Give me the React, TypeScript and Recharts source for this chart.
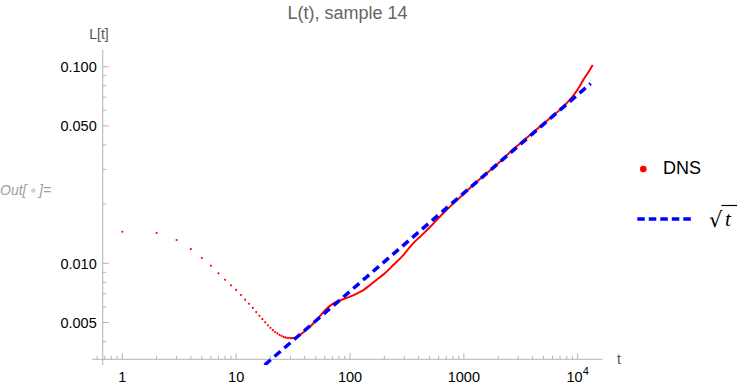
import React from 'react';
import { ComposedChart, Line, Scatter, XAxis, YAxis, ReferenceLine } from 'recharts';

// early samples, drawn as separate dots
const dotT = [1, 2, 3, 4, 5, 6, 7, 8, 9, 10, 11, 12, 13, 14, 15, 16, 17, 18, 19, 20, 21, 22, 23, 24, 25, 26, 27, 28, 29, 30];
const dotL = [
  0.01447, 0.01426, 0.01314, 0.01182, 0.01064, 0.00972, 0.00889, 0.00825, 0.00773, 0.00732,
  0.0069, 0.00653, 0.00623, 0.00593, 0.00565, 0.00541, 0.0052, 0.00501, 0.00484, 0.0047,
  0.00457, 0.00447, 0.0044, 0.00433, 0.00428, 0.00423, 0.0042, 0.00418, 0.00417, 0.00416,
];

// later samples are dense enough to read as a solid curve
const curveT = [
  30, 33, 37, 42, 48, 55, 62, 70, 80, 90, 100, 115, 130, 150, 175, 200, 240, 294, 350, 412,
  500, 577, 700, 850, 1000, 1400, 2000, 2718, 4000, 5500, 7000, 8000, 9150, 10475, 11200, 12000, 12800, 13550,
];
const curveL = [
  0.00416, 0.00418, 0.00436, 0.00462, 0.00497, 0.00543, 0.00586, 0.0062, 0.00645, 0.00661, 0.00677, 0.00702,
  0.00729, 0.00776, 0.00832, 0.00885, 0.0098, 0.01101, 0.01245, 0.01365, 0.0152, 0.0166, 0.0186, 0.0207,
  0.0226, 0.027, 0.0322, 0.038, 0.046, 0.0537, 0.0605, 0.0652, 0.0712, 0.08, 0.0857, 0.091, 0.0965, 0.102,
];

// sqrt(t) guide line, ends
const fitT = [17.8, 13000];
const fitL = [0.00304, 0.0821];

const xMajor = [1, 10, 100, 1000, 10000];
const xMinor = [0.6, 0.7, 0.8, 0.9, 2, 3, 4, 5, 6, 7, 8, 9, 20, 30, 40, 50, 60, 70, 80, 90, 200, 300, 400, 500, 600, 700, 800, 900, 2000, 3000, 4000, 5000, 6000, 7000, 8000, 9000];
const yMajor = [0.005, 0.01, 0.05, 0.1];
const yMinor = [0.004, 0.006, 0.007, 0.008, 0.009, 0.02, 0.03, 0.04, 0.06, 0.07, 0.08, 0.09];

const dots = dotT.map((t, i) => ({ t, L: dotL[i] }));
const curve = curveT.map((t, i) => ({ t, L: curveL[i] }));
const fit = fitT.map((t, i) => ({ t, L: fitL[i] }));

const W = 747;
const H = 387;
const LEFT = 92.3;
const RIGHT = 602.3;
const TOP = 50;
const BOTTOM = 365;
const X_DOMAIN: [number, number] = [0.545, 16450];
const Y_DOMAIN: [number, number] = [0.00304, 0.1216];
// where the axes cross
const ORIGIN_T = 0.673;
const ORIGIN_L = 0.00325;

const AXIS = '#b3b3b3';
const FONT = '"Liberation Sans", Arial, sans-serif';

const lg = Math.log10;
const xPx = (v: number) => LEFT + ((lg(v) - lg(X_DOMAIN[0])) / (lg(X_DOMAIN[1]) - lg(X_DOMAIN[0]))) * (RIGHT - LEFT);
const yPx = (v: number) => TOP + ((lg(Y_DOMAIN[1]) - lg(v)) / (lg(Y_DOMAIN[1]) - lg(Y_DOMAIN[0]))) * (BOTTOM - TOP);

const XTick = (props: any) => {
  const { x, payload } = props;
  const v = payload.value;
  const major = xMajor.includes(v);
  const y0 = yPx(ORIGIN_L);
  return (
    <g>
      <line x1={x} x2={x} y1={y0} y2={y0 - (major ? 6 : 3.5)} stroke={AXIS} strokeWidth={1} />
      {major && (
        <text x={x} y={y0 + 22.4} textAnchor="middle" fontSize={14.5} fontFamily={FONT} fill="#000">
          {v === 10000 ? (
            <>
              10<tspan dy={-6.5} fontSize={11}>4</tspan>
            </>
          ) : (
            String(v)
          )}
        </text>
      )}
    </g>
  );
};

const YTick = (props: any) => {
  const { y, payload } = props;
  const v = payload.value;
  const major = yMajor.includes(v);
  const x0 = xPx(ORIGIN_T);
  return (
    <g>
      <line x1={x0} x2={x0 + (major ? 6 : 3.5)} y1={y} y2={y} stroke={AXIS} strokeWidth={1} />
      {major && (
        <text x={x0 - 6} y={y + 5.4} textAnchor="end" fontSize={14.5} fontFamily={FONT} fill="#000">
          {v.toFixed(3)}
        </text>
      )}
    </g>
  );
};

const Dot = (props: any) => <circle cx={props.cx} cy={props.cy} r={1.1} fill="#ff0000" />;

export default function App() {
  return (
    <div style={{ position: 'absolute', left: 0, top: 0, width: W, height: H, background: '#fff' }}>
      <ComposedChart width={W} height={H} margin={{ top: TOP, right: W - RIGHT, bottom: 0, left: 0 }}>
        <XAxis
          dataKey="t"
          type="number"
          scale="log"
          domain={X_DOMAIN}
          allowDataOverflow
          ticks={[...xMinor, ...xMajor]}
          interval={0}
          height={H - BOTTOM}
          tickSize={0}
          tickMargin={0}
          axisLine={false}
          tickLine={false}
          tick={<XTick />}
        />
        <YAxis
          dataKey="L"
          type="number"
          scale="log"
          domain={Y_DOMAIN}
          allowDataOverflow
          ticks={[...yMinor, ...yMajor]}
          interval={0}
          width={LEFT}
          tickSize={0}
          tickMargin={0}
          axisLine={false}
          tickLine={false}
          tick={<YTick />}
        />
        <ReferenceLine y={ORIGIN_L} stroke={AXIS} strokeWidth={1} />
        <ReferenceLine x={ORIGIN_T} stroke={AXIS} strokeWidth={1} />
        <Scatter data={dots} fill="#ff0000" shape={<Dot />} isAnimationActive={false} />
        <Line data={curve} dataKey="L" type="monotoneX" stroke="#ff0000" strokeWidth={2} dot={false} isAnimationActive={false} />
        <Line data={fit} dataKey="L" type="linear" stroke="#0000ff" strokeWidth={3.5} strokeDasharray="8 5" dot={false} isAnimationActive={false} />
      </ComposedChart>
      <svg width={W} height={H} style={{ position: 'absolute', left: 0, top: 0, pointerEvents: 'none' }}>
        <text x={347.5} y={18.5} textAnchor="middle" fontSize={18} fontFamily={FONT} fill="#646464">
          L(t), sample 14
        </text>
        <text x={99} y={39} textAnchor="middle" fontSize={14} fontFamily={FONT} fill="#555">
          L[t]
        </text>
        <text x={617} y={363.5} fontSize={14} fontFamily={FONT} fill="#555">
          t
        </text>
        <text x={0} y={195} fontSize={14} fontStyle="italic" fontFamily={FONT} fill="#a0a0a0">
          Out[
        </text>
        <circle cx={33.3} cy={190.5} r={2.3} fill="#d2d2d2" />
        <text x={39} y={195} fontSize={14} fontStyle="italic" fontFamily={FONT} fill="#a0a0a0">
          ]=
        </text>
        <circle cx={643.3} cy={169} r={3.3} fill="#ff0000" />
        <text x={663} y={173.5} fontSize={18} fontFamily={FONT} fill="#000">
          DNS
        </text>
        <line x1={637.3} x2={694} y1={219} y2={219} stroke="#0000ff" strokeWidth={3.5} strokeDasharray="7.5 4" />
        <text x={709} y={227} fontSize={21} fontFamily='"DejaVu Serif", serif' fill="#000">
          √
        </text>
        <line x1={721.5} x2={737} y1={205.5} y2={205.5} stroke="#000" strokeWidth={1.2} />
        <text x={725} y={226} fontSize={21} fontStyle="italic" fontFamily='"Liberation Serif", serif' fill="#000">
          t
        </text>
      </svg>
    </div>
  );
}
